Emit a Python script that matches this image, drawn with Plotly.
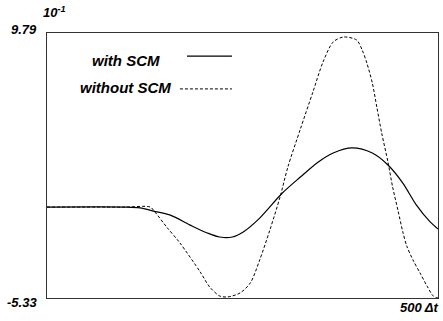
import plotly.graph_objects as go

# time steps (Δt) and values (×10^-1)
t_with = [0, 100, 119, 136, 157, 183, 205, 221, 237, 251, 272, 301, 324, 347, 366, 390, 416, 436, 455, 472, 490, 500]
v_with = [-0.14, -0.14, -0.19, -0.37, -0.59, -1.17, -1.62, -1.85, -1.85, -1.56, -0.77, 0.66, 1.57, 2.43, 2.94, 3.23, 2.94, 2.26, 1.23, 0.0, -0.99, -1.39]

t_without = [0, 100, 132, 138, 153, 170, 196, 208, 221, 231, 247, 260, 272, 285, 298, 308, 324, 340, 353, 366, 379, 396, 403, 409, 416, 422, 428, 436, 442, 449, 455, 460, 468, 477, 486, 494, 500]
v_without = [-0.14, -0.14, -0.14, -0.42, -1.28, -2.19, -3.85, -4.70, -5.22, -5.27, -5.04, -4.47, -3.16, -1.45, 0.43, 2.14, 4.31, 6.42, 8.14, 9.28, 9.56, 9.39, 8.82, 8.08, 6.94, 5.51, 4.08, 2.43, 1.00, -0.37, -1.56, -2.36, -3.16, -3.90, -4.65, -5.22, -5.33]

y_min, y_max = -5.33, 9.79
x_min, x_max = 0, 500
y_min_label, y_max_label = "-5.33", "9.79"
scale_label = "10<sup>-1</sup>"
x_max_label = "500 Δt"
series_names = ["with SCM", "without SCM"]

FONT = "Liberation Sans, Arial, sans-serif"

fig = go.Figure()
fig.add_trace(go.Scatter(x=t_with, y=v_with, mode="lines", name=series_names[0],
                         line=dict(color="black", width=1.2, shape="spline", smoothing=0.9),
                         showlegend=False))
fig.add_trace(go.Scatter(x=t_without, y=v_without, mode="lines", name=series_names[1],
                         line=dict(color="black", width=1.0, dash="3px,2px", shape="spline", smoothing=0.8),
                         showlegend=False))

axis_common = dict(showgrid=False, zeroline=False, showticklabels=False, ticks="",
                   showline=True, mirror=True, linecolor="#333", linewidth=1.3)
fig.update_xaxes(range=[x_min, x_max], **axis_common)
fig.update_yaxes(range=[y_min, y_max], **axis_common)

def bi(s):
    return "<b><i>" + s + "</i></b>"

anns = [
    dict(text=bi(y_max_label), x=0, y=1, xanchor="right", yanchor="middle", xshift=-8, yshift=4, size=13),
    dict(text=bi(y_min_label), x=0, y=0, xanchor="right", yanchor="middle", xshift=-8, yshift=-4, size=13),
    dict(text=bi(scale_label), x=0, y=1, xanchor="left", yanchor="middle", xshift=-6, yshift=21, size=13),
    dict(text=bi(x_max_label), x=1, y=0, xanchor="right", yanchor="middle", xshift=3, yshift=-9, size=13),
    dict(text=bi(series_names[0]), x=0.294, y=0.898, xanchor="right", yanchor="middle", xshift=0, yshift=0, size=15),
    dict(text=bi(series_names[1]), x=0.322, y=0.794, xanchor="right", yanchor="middle", xshift=0, yshift=0, size=15),
]
for a in anns:
    size = a.pop("size")
    fig.add_annotation(xref="paper", yref="paper", showarrow=False,
                       font=dict(family=FONT, size=size, color="black"), **a)

fig.add_shape(type="line", xref="paper", yref="paper", x0=0.358, x1=0.473, y0=0.913, y1=0.913,
              line=dict(color="black", width=1.2))
fig.add_shape(type="line", xref="paper", yref="paper", x0=0.340, x1=0.473, y0=0.789, y1=0.789,
              line=dict(color="black", width=1.0, dash="3px,2px"))

fig.update_layout(width=443, height=321, margin=dict(l=47, r=5, t=33, b=23),
                  paper_bgcolor="white", plot_bgcolor="white",
                  font=dict(family=FONT))
fig.write_html("out.html", config={"displayModeBar": False},
               post_script="document.body.style.margin='0';document.body.style.overflow='hidden';")
